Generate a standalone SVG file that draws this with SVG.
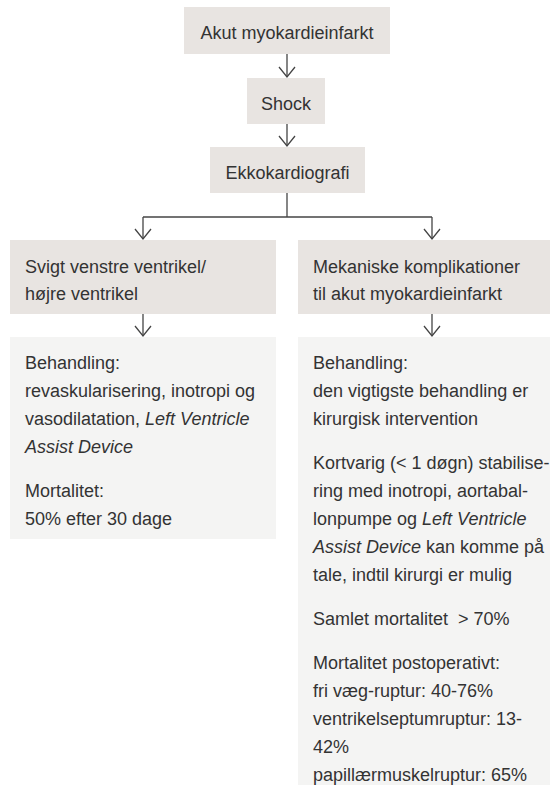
<svg xmlns="http://www.w3.org/2000/svg" width="550" height="785" viewBox="0 0 550 785">
<style>
  .hdr { fill: #e8e4e1; }
  .body { fill: #f4f4f3; }
  text { font-family: "Liberation Sans", Arial, sans-serif; font-size: 18px; fill: #333333; white-space: pre; }
  .c { text-anchor: middle; }
  .i { font-style: italic; }
  .conn { stroke: #444444; stroke-width: 1.3; fill: none; }
</style>
<defs>
  <marker id="arr" viewBox="-12 -10 14 20" markerWidth="14" markerHeight="20" refX="0" refY="0" orient="auto" markerUnits="userSpaceOnUse">
    <path d="M-10,-8 L0,0 L-10,8" fill="none" stroke="#444444" stroke-width="1.3"/>
  </marker>
</defs>
<rect width="550" height="785" fill="#ffffff"/>

<g id="connectors">
  <path class="conn" d="M287,54 V77" marker-end="url(#arr)"/>
  <path class="conn" d="M287,124 V146" marker-end="url(#arr)"/>
  <path class="conn" d="M287,193 V217"/>
  <path class="conn" d="M143,217 H432"/>
  <path class="conn" d="M143,217 V239" marker-end="url(#arr)"/>
  <path class="conn" d="M432,217 V239" marker-end="url(#arr)"/>
  <path class="conn" d="M143,314 V336" marker-end="url(#arr)"/>
  <path class="conn" d="M432,314 V336" marker-end="url(#arr)"/>
</g>

<g id="node-ami">
  <rect class="hdr" x="184" y="7" width="206" height="47"/>
  <text class="c" x="287" y="39">Akut myokardieinfarkt</text>
</g>

<g id="node-shock">
  <rect class="hdr" x="247" y="78" width="78" height="46"/>
  <text class="c" x="286" y="110">Shock</text>
</g>

<g id="node-ekko">
  <rect class="hdr" x="210" y="147" width="155" height="46"/>
  <text class="c" x="287.5" y="179">Ekkokardiografi</text>
</g>

<g id="node-svigt">
  <rect class="hdr" x="10" y="240" width="266" height="74"/>
  <text x="25" y="273">Svigt venstre ventrikel/</text>
  <text x="25" y="300">højre ventrikel</text>
</g>

<g id="node-mekaniske">
  <rect class="hdr" x="298" y="240" width="252" height="74"/>
  <text x="313" y="273">Mekaniske komplikationer</text>
  <text x="313" y="300">til akut myokardieinfarkt</text>
</g>

<g id="node-svigt-behandling">
  <rect class="body" x="10" y="337" width="266" height="202"/>
  <text x="25" y="369">Behandling:</text>
  <text x="25" y="397">revaskularisering, inotropi og</text>
  <text x="25" y="425">vasodilatation, <tspan class="i">Left Ventricle</tspan></text>
  <text x="25" y="453" class="i">Assist Device</text>
  <text x="25" y="497">Mortalitet:</text>
  <text x="25" y="525">50% efter 30 dage</text>
</g>

<g id="node-mekaniske-behandling">
  <rect class="body" x="298" y="337" width="252" height="448"/>
  <text x="313" y="369">Behandling:</text>
  <text x="313" y="397">den vigtigste behandling er</text>
  <text x="313" y="425">kirurgisk intervention</text>
  <text x="313" y="469">Kortvarig (&lt; 1 døgn) stabilise-</text>
  <text x="313" y="497">ring med inotropi, aortabal-</text>
  <text x="313" y="525">lonpumpe og <tspan class="i">Left Ventricle</tspan></text>
  <text x="313" y="553"><tspan class="i">Assist Device</tspan> kan komme på</text>
  <text x="313" y="581">tale, indtil kirurgi er mulig</text>
  <text x="313" y="625">Samlet mortalitet  &gt; 70%</text>
  <text x="313" y="669">Mortalitet postoperativt:</text>
  <text x="313" y="697">fri væg-ruptur: 40-76%</text>
  <text x="313" y="725">ventrikelseptumruptur: 13-</text>
  <text x="313" y="753">42%</text>
  <text x="313" y="781">papillærmuskelruptur: 65%</text>
</g>
</svg>
